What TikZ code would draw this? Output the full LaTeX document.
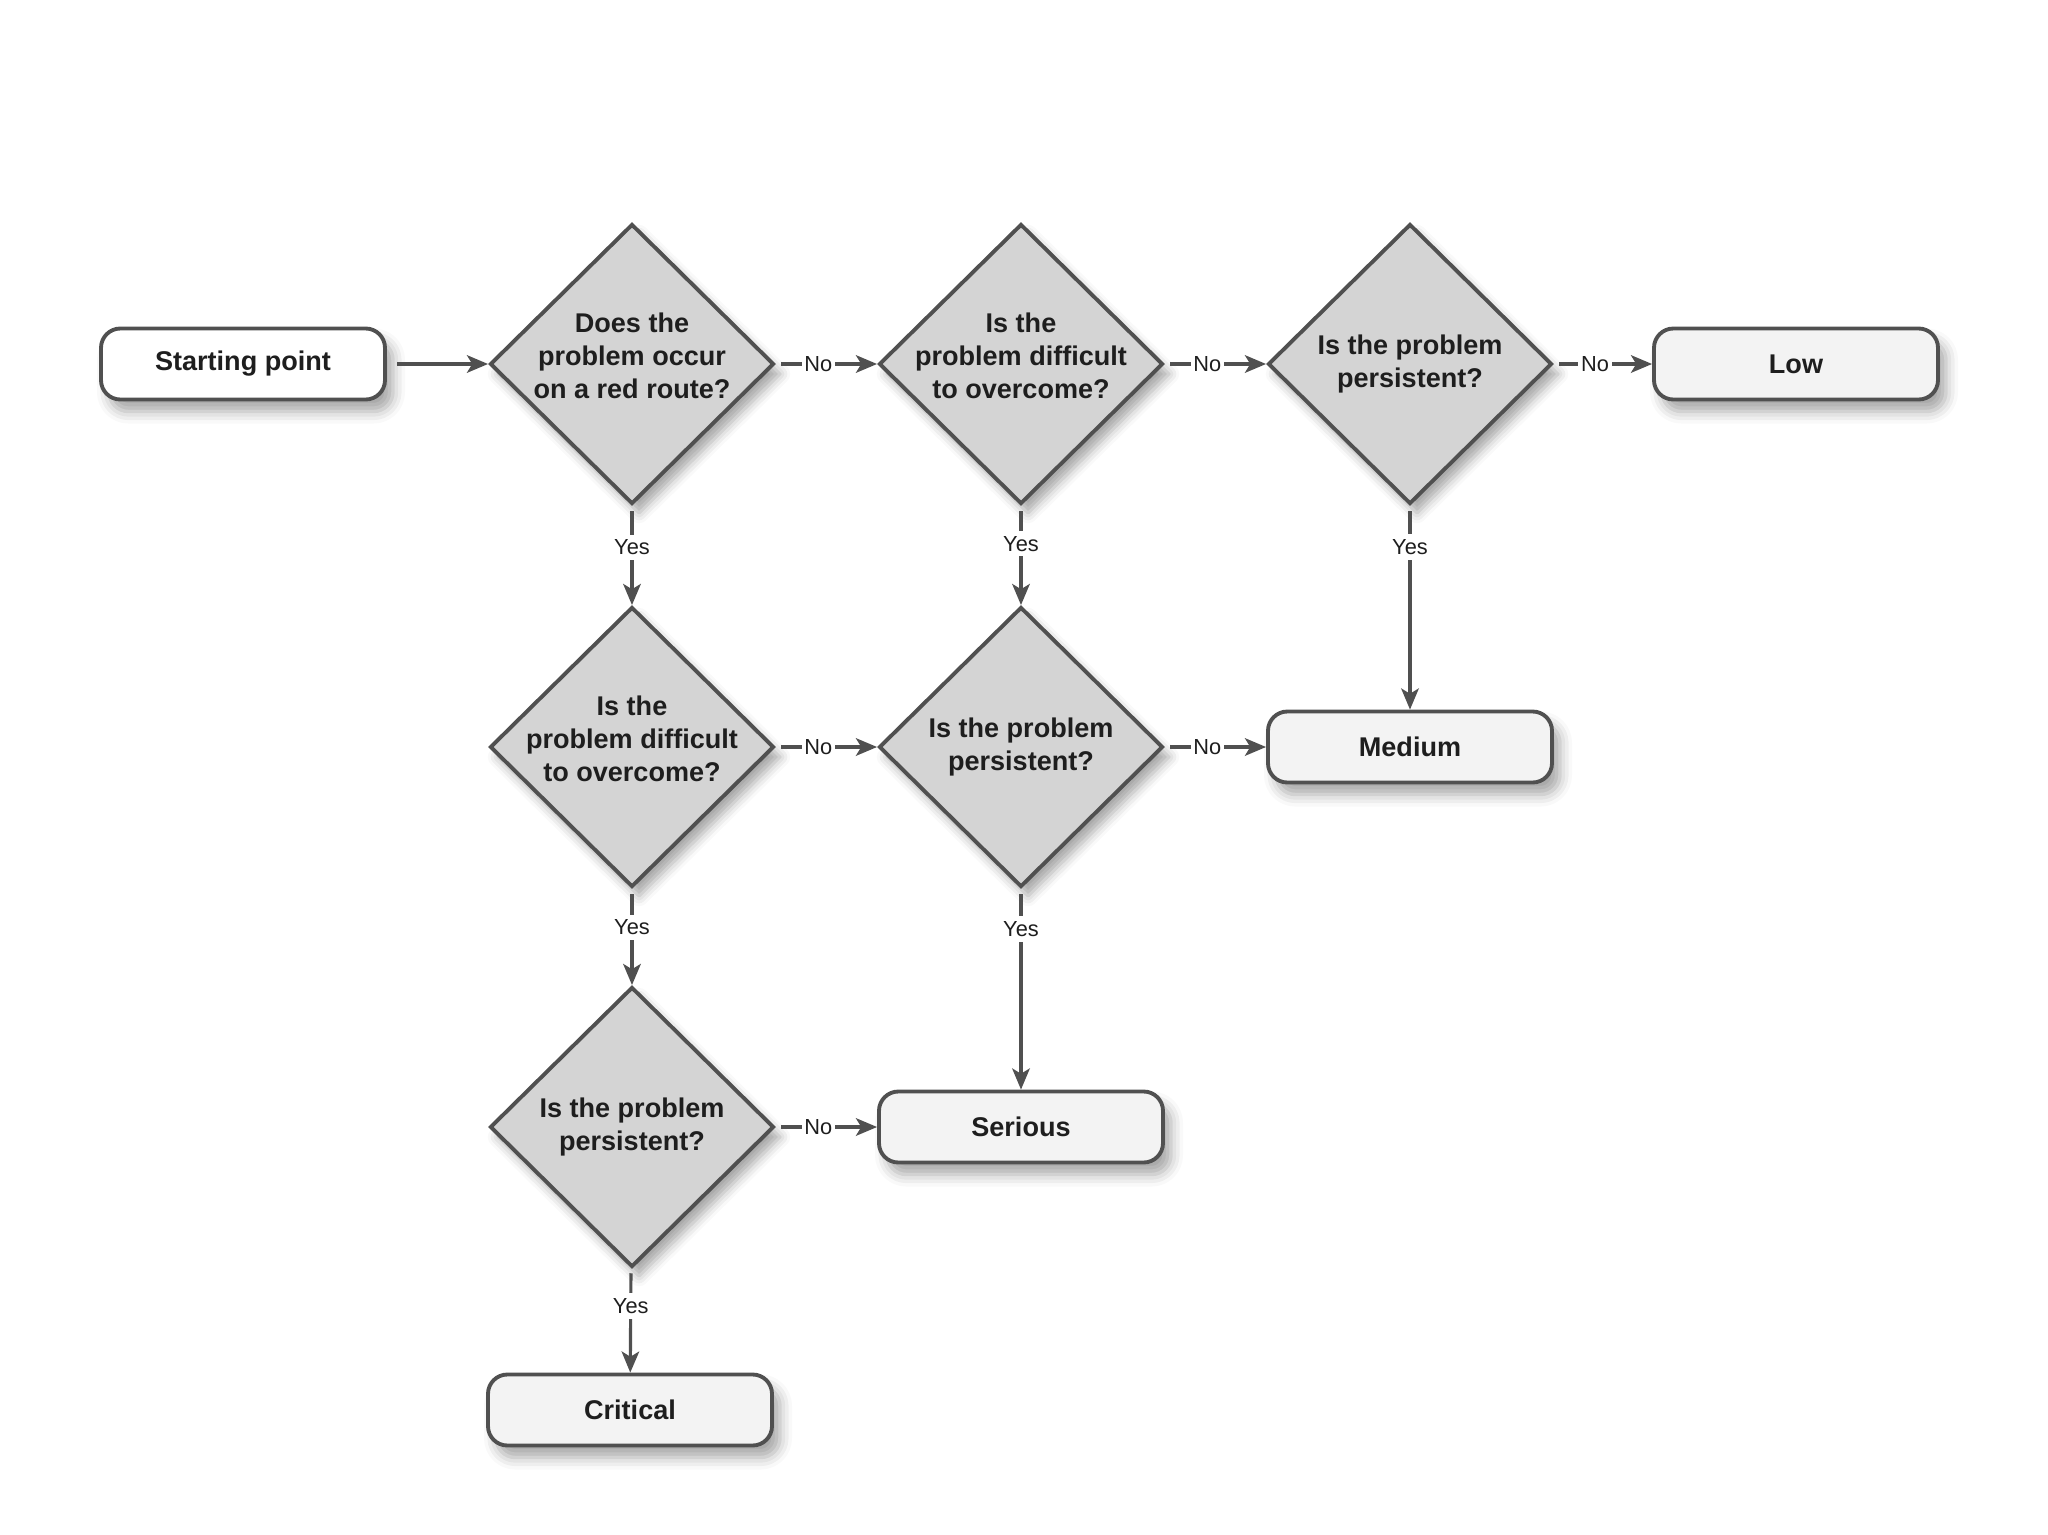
\documentclass[tikz,border=0pt]{standalone}
\usepackage{fontspec}
\setmainfont{Liberation Sans}
\usepackage{xcolor}
\usetikzlibrary{arrows.meta,shapes.geometric,shadows.blur}

\definecolor{linegray}{HTML}{505050}
\definecolor{diafill}{HTML}{D4D4D4}
\definecolor{boxfill}{HTML}{F3F3F3}
\definecolor{txtgray}{HTML}{1E1E1E}

\begin{document}
\begin{tikzpicture}[
		font=\fontsize{7.7}{9.4}\selectfont\bfseries,
		text=txtgray,
		>={Stealth[length=6pt,width=5pt,inset=1.5pt]},
		question/.style={
			diamond, draw=linegray, fill=diafill, line width=1.1pt,
			minimum width=2.84cm, minimum height=2.80cm,
			inner sep=-4pt, align=center,
			blur shadow={shadow xshift=0.07cm, shadow yshift=-0.1cm,
				shadow blur radius=0.1cm, shadow opacity=35}
		},
		outcome/.style={
			rectangle, rounded corners=5.5pt,
			draw=linegray, fill=boxfill, line width=1.1pt,
			minimum width=2.84cm, minimum height=0.71cm, inner sep=2pt,
			blur shadow={shadow xshift=0.08cm, shadow yshift=-0.12cm,
				shadow blur radius=0.12cm, shadow opacity=35}
		},
		startbox/.style={outcome, fill=white},
		arr/.style={->, line width=0.9pt, draw=linegray, shorten <=1.5pt},
		ans/.style={fill=white, inner xsep=0.8pt, inner ysep=1.5pt,
			font=\fontsize{6.2}{7}\selectfont}
	]
	\useasboundingbox (0,0) rectangle (20.48,-15.35);
	
	\node[startbox] (start) at (2.43, -3.64) {Starting point};
	\node[question] (q1) at (6.32, -3.64) {Does the\\problem occur\\on a red route?\\[-4.5pt]\mbox{}};
	\node[question] (q2) at (10.21, -3.64) {Is the\\problem difficult\\to overcome?\\[-4.5pt]\mbox{}};
	\node[question] (q3) at (14.10, -3.64) {Is the problem\\persistent?};
	\node[outcome] (low) at (17.96, -3.64) {Low};
	
	\node[question] (q4) at (6.32, -7.47) {Is the\\problem difficult\\to overcome?\\[-4.5pt]\mbox{}};
	\node[question] (q5) at (10.21, -7.47) {Is the problem\\persistent?};
	\node[outcome] (medium) at (14.10, -7.47) {Medium};
	
	\node[question] (q6) at (6.32, -11.27) {Is the problem\\persistent?};
	\node[outcome] (serious) at (10.21, -11.27) {Serious};
	
	\node[outcome] (critical) at (6.30, -14.10) {Critical};
	
	\draw[arr, shorten <=3pt] (start) -- (q1);
	\foreach \a/\b in {q1/q2, q2/q3, q3/low, q4/q5, q5/medium, q6/serious}
	\draw[arr] (\a) -- node[ans, pos=0.42] {No} (\b);
	\foreach \a/\b/\p in {q1/q4/0.42, q2/q5/0.38, q3/medium/0.2,
		q4/q6/0.4, q5/serious/0.2, q6/critical/0.36}
	\draw[arr] (\a) -- node[ans, pos=\p] {Yes} (\b);
\end{tikzpicture}
\end{document}
